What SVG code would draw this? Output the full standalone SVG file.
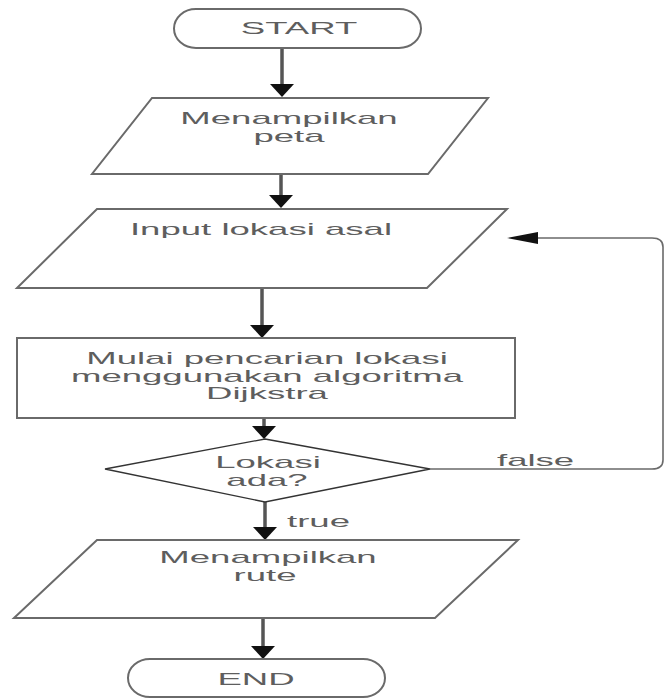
<svg xmlns="http://www.w3.org/2000/svg" width="670" height="699" viewBox="0 0 670 699">
<style>
.sh{fill:#fff;stroke:#6a6a6a;stroke-width:2}
.dm{fill:#fff;stroke:#333;stroke-width:1.3}
.t{font-family:"Liberation Sans",Arial,sans-serif;font-size:17px;fill:#5e5e5e;text-anchor:middle}
.tl{font-family:"Liberation Sans",Arial,sans-serif;font-size:17px;fill:#5e5e5e;text-anchor:start}
.av{fill:none;stroke:#555;stroke-width:3.5;marker-end:url(#ahv)}
.lp{fill:none;stroke:#6a6a6a;stroke-width:1.6}
</style>
<defs>
<marker id="ahv" markerUnits="userSpaceOnUse" orient="auto" refX="0" refY="0" markerWidth="40" markerHeight="40" overflow="visible">
<path d="M0,-12 L13,0 L0,12 Z" fill="#111"/>
</marker>
<marker id="ahh" markerUnits="userSpaceOnUse" orient="auto" refX="0" refY="0" markerWidth="40" markerHeight="40" overflow="visible">
<path d="M0,-6 L31,0 L0,6 Z" fill="#111"/>
</marker>
</defs>
<g id="connectors">
<line class="av" x1="282" y1="48" x2="282" y2="84"/>
<line class="av" x1="281" y1="174" x2="281" y2="195"/>
<line class="av" x1="262" y1="288" x2="262" y2="325"/>
<line class="av" x1="264" y1="418" x2="264" y2="426"/>
<line class="av" x1="265" y1="502" x2="265" y2="527"/>
<line class="av" x1="263" y1="618" x2="263" y2="646"/>
<path class="lp" d="M430,469 H652 Q663,469 663,460 V247 Q663,238 652,238 H538" marker-end="url(#ahh)"/>
<text class="tl" transform="translate(497,466) scale(2.15,1)">false</text>
<text class="tl" transform="translate(287,527) scale(2.15,1)">true</text>
</g>
<g id="start">
<rect class="sh" x="174" y="9" width="247" height="39" rx="22" ry="19.5"/>
<text class="t" transform="translate(299,34) scale(2.15,1)">START</text>
</g>
<g id="tampil-peta">
<polygon class="sh" points="152,98 488,98 428,174 92,174"/>
<text class="t" transform="translate(289,124) scale(2.15,1)">Menampilkan</text>
<text class="t" transform="translate(289,142) scale(2.15,1)">peta</text>
</g>
<g id="input-lokasi">
<polygon class="sh" points="97,209 507,209 427,288 17,288"/>
<text class="t" transform="translate(261,235) scale(2.15,1)">Input lokasi asal</text>
</g>
<g id="pencarian">
<rect class="sh" x="17" y="338" width="498" height="80"/>
<text class="t" transform="translate(267,364) scale(2.15,1)">Mulai pencarian lokasi</text>
<text class="t" transform="translate(267,381.5) scale(2.15,1)">menggunakan algoritma</text>
<text class="t" transform="translate(267,399) scale(2.15,1)">Dijkstra</text>
</g>
<g id="keputusan">
<polygon class="dm" points="265,439 430,469 265,502 105,469"/>
<text class="t" transform="translate(268,468) scale(2.15,1)">Lokasi</text>
<text class="t" transform="translate(267,486) scale(2.15,1)">ada?</text>
</g>
<g id="tampil-rute">
<polygon class="sh" points="97,540 518,540 435,618 14,618"/>
<text class="t" transform="translate(268,563) scale(2.15,1)">Menampilkan</text>
<text class="t" transform="translate(265,581) scale(2.15,1)">rute</text>
</g>
<g id="end">
<rect class="sh" x="128" y="659" width="257" height="38" rx="22" ry="19"/>
<text class="t" transform="translate(256,685) scale(2.15,1)">END</text>
</g>
</svg>
